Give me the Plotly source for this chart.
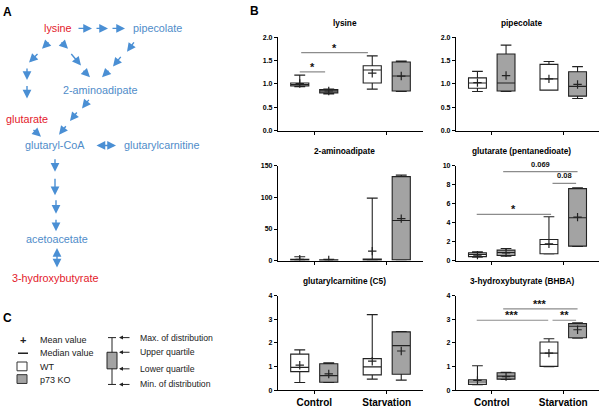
import plotly.graph_objects as go

# ---------------- data ----------------
conditions = ["Control", "Starvation"]
genotypes = ["WT", "p73 KO"]
# order in each list: WT-Control, KO-Control, WT-Starvation, KO-Starvation
lysine = dict(lo=[0.94, 0.79, 0.89, 0.84], q1=[0.96, 0.81, 1.02, 0.85], med=[0.99, 0.85, 1.30, 1.17],
              q3=[1.02, 0.88, 1.39, 1.47], hi=[1.19, 0.89, 1.60, 1.49], mean=[1.01, 0.85, 1.23, 1.17])
pipecolate = dict(lo=[0.84, 0.84, 0.87, 0.69], q1=[0.91, 0.85, 0.87, 0.74], med=[1.02, 1.02, 1.11, 0.95],
                  q3=[1.13, 1.64, 1.42, 1.26], hi=[1.27, 1.83, 1.48, 1.37], mean=[1.03, 1.18, 1.11, 0.99])
aminoadipate = dict(lo=[0.2, 0.2, 0.3, 0.5], q1=[0.5, 0.3, 0.5, 1.0], med=[1.0, 0.8, 1.0, 63.4],
                    q3=[2.0, 1.2, 2.5, 133.0], hi=[6.0, 2.0, 99.0, 135.5], mean=[2.0, 0.9, 15.0, 66.5])
glutarate = dict(lo=[0.35, 0.46, 0.70, 1.48], q1=[0.42, 0.53, 0.72, 1.52], med=[0.64, 0.85, 1.70, 4.52],
                 q3=[0.81, 1.10, 2.23, 7.60], hi=[0.92, 1.27, 4.63, 7.70], mean=[0.57, 0.81, 1.77, 4.59])
glutarylcarnitine = dict(lo=[0.33, 0.33, 0.47, 0.43], q1=[0.79, 0.34, 0.65, 0.68], med=[0.97, 0.62, 0.99, 1.89],
                         q3=[1.53, 1.12, 1.34, 2.47], hi=[1.71, 1.16, 3.20, 2.48], mean=[1.06, 0.69, 1.23, 1.66])
bhba = dict(lo=[0.24, 0.46, 1.00, 2.20], q1=[0.25, 0.47, 1.01, 2.22], med=[0.35, 0.60, 1.57, 2.71],
            q3=[0.44, 0.74, 2.04, 2.82], hi=[1.04, 0.76, 2.18, 2.85], mean=[0.42, 0.58, 1.57, 2.56])

panel_titles = ["lysine", "pipecolate", "2-aminoadipate", "glutarate (pentanedioate)",
                "glutarylcarnitine (C5)", "3-hydroxybutyrate (BHBA)"]
panel_data = [lysine, pipecolate, aminoadipate, glutarate, glutarylcarnitine, bhba]
y_max = [2.0, 2.0, 150, 10, 4, 4]
y_dtick = [0.5, 0.5, 50, 2, 1, 1]
y_fmt = [".1f", ".1f", "d", "d", "d", "d"]
# significance bars: (x from, x to, height, label)
lysine_sig = [(-0.2, 0.15, 1.26, "*"), (-0.18, 0.74, 1.67, "*")]
glutarate_sig = [(-0.21, 0.83, 4.88, "*"), (0.16, 1.20, 9.4, "0.069"), (0.85, 1.18, 8.16, "0.08")]
bhba_sig = [(-0.21, 0.79, 2.96, "***"), (0.85, 1.18, 2.96, "**"), (0.16, 1.20, 3.44, "***")]
panel_sig = [lysine_sig, [], [], glutarate_sig, [], bhba_sig]

# ---------------- helpers ----------------
W, H = 600, 408
FONT = "Liberation Sans, Arial, sans-serif"
BLUE = "#4a8fd4"
BLUE_T = "#4f8cc9"
RED = "#e3202b"
GRAY = "#a3a3a3"
INK = "#222222"


def px(x):
    return x / W


def py(y):
    return 1 - y / H


def text_ann(t, x, y, size, color, anchor="center", bold=False):
    return dict(text=f"<b>{t}</b>" if bold else t, x=px(x), y=py(y), xref="paper", yref="paper",
                showarrow=False, xanchor=anchor, yanchor="middle",
                font=dict(family=FONT, size=size, color=color))


fig = go.Figure()
annotations = []
shapes = []

# ---------------- panel B ----------------
col_x = [(278, 423), (456, 599)]
row_y = [(34, 130), (166, 263), (299, 396)]
offsets = [-0.2, 0.2]
fills = ["white", GRAY]

for i, (title, d) in enumerate(zip(panel_titles, panel_data)):
    r, c = divmod(i, 2)
    n = i + 1
    xa = "x" if n == 1 else f"x{n}"
    ya = "y" if n == 1 else f"y{n}"
    xkey = "xaxis" if n == 1 else f"xaxis{n}"
    ykey = "yaxis" if n == 1 else f"yaxis{n}"
    x0, x1 = col_x[c]
    y0, y1 = row_y[r]
    bottom = (r == 2)
    fig.layout[xkey] = dict(
        domain=[px(x0), px(x1)], anchor=ya, range=[-0.5, 1.5],
        tickmode="array", tickvals=[0, 1],
        ticktext=conditions if bottom else ["", ""],
        showline=True, linecolor="black", linewidth=1.2,
        ticks="outside", ticklen=3, tickwidth=1, tickcolor="black",
        showgrid=False, zeroline=False,
        tickfont=dict(family=FONT, size=10, color="black", weight="bold"),
        fixedrange=True,
    )
    fig.layout[ykey] = dict(
        domain=[py(y1), py(y0)], anchor=xa, range=[0, y_max[i]],
        dtick=y_dtick[i], tick0=0, tickformat=y_fmt[i],
        showline=True, linecolor="black", linewidth=1.2,
        ticks="outside", ticklen=3, tickwidth=1, tickcolor="black",
        showgrid=False, zeroline=False,
        tickfont=dict(family=FONT, size=7, color="black", weight="bold"),
        fixedrange=True,
    )
    for k in range(4):
        cond = k // 2
        gen = k % 2
        pos = cond + offsets[gen]
        fig.add_trace(go.Box(
            x=[pos], q1=[d["q1"][k]], median=[d["med"][k]], q3=[d["q3"][k]],
            lowerfence=[d["lo"][k]], upperfence=[d["hi"][k]],
            width=0.25, whiskerwidth=0.6, boxpoints=False,
            fillcolor=fills[gen], line=dict(color=INK, width=1.1),
            xaxis=xa, yaxis=ya, showlegend=False, hoverinfo="skip",
        ))
        fig.add_trace(go.Scatter(
            x=[pos], y=[d["mean"][k]], mode="markers",
            marker=dict(symbol="cross-thin", size=6, line=dict(color=INK, width=1.2)),
            xaxis=xa, yaxis=ya, showlegend=False, hoverinfo="skip",
        ))
    annotations.append(text_ann(title, (x0 + x1) / 2 - 6, y0 - 15, 8.3, "black", bold=True))
    for (sx0, sx1, sy, lab) in panel_sig[i]:
        shapes.append(dict(type="line", xref=xa, yref=ya, x0=sx0, x1=sx1, y0=sy, y1=sy,
                           line=dict(color="#8c8c8c", width=1.2)))
        is_star = "*" in lab
        annotations.append(dict(
            text=f"<b>{lab}</b>", x=(sx0 + sx1) / 2, y=sy, xref=xa, yref=ya, showarrow=False,
            xanchor="center", yanchor="bottom", yshift=-3 if is_star else 1,
            font=dict(family=FONT, size=11 if is_star else 7.5, color="#111111")))

# ---------------- panel labels ----------------
for lab, x, y in [("A", 7, 8), ("B", 254, 7), ("C", 7, 322)]:
    annotations.append(text_ann(lab, x, y, 12, "black", bold=True))

# ---------------- panel A: pathway ----------------
nodes = [("lysine", 58, 25, RED), ("pipecolate", 157, 25, BLUE_T), ("2-aminoadipate", 100, 88, BLUE_T),
         ("glutarate", 27, 118, RED), ("glutaryl-CoA", 55, 145, BLUE_T),
         ("glutarylcarnitine", 162, 145, BLUE_T), ("acetoacetate", 57, 241, BLUE_T),
         ("3-hydroxybutyrate", 55, 281, RED)]
for t, x, y, col in nodes:
    annotations.append(text_ann(t, x, y, 10.8, col))

# arrows: tail (x, y) -> head (x, y), double-headed flag
arrows = [
    (77, 25, 92, 25, False), (95, 25, 108, 25, False), (111, 25, 125, 25, False),
    (50, 38, 42, 46, False), (39, 50, 29, 60, False),
    (27, 65, 27, 78, False), (27, 83, 27, 97, False),
    (60, 38, 68, 46, False), (70, 50, 81, 63, False), (82, 67, 90, 75, False),
    (135, 38, 127, 49, False), (122, 53, 113, 64, False), (110, 67, 102, 75, False),
    (90, 97, 82, 107, False), (78, 110, 70, 120, False), (67, 124, 59, 134, False),
    (32, 128, 41, 136, False),
    (95, 145, 116, 145, True),
    (55, 158, 55, 172, False), (55, 178, 55, 196, False),
    (56, 200, 56, 215, False), (56, 220, 56, 233, False),
    (57, 249, 57, 270, True),
]
for (tx, ty, hx, hy, both) in arrows:
    annotations.append(dict(
        x=px(hx), y=py(hy), xref="paper", yref="paper", ax=tx - hx, ay=ty - hy,
        axref="pixel", ayref="pixel", text="", showarrow=True,
        arrowhead=2, arrowsize=1.25, arrowwidth=1.4, arrowcolor=BLUE,
        arrowside="end+start" if both else "end", startarrowhead=2, startarrowsize=1.25,
        standoff=0, startstandoff=0))

# ---------------- panel C: legend ----------------
legend_items = ["Mean value", "Median value", "WT", "p73 KO"]
legend_y = [344, 358, 372, 385]
for t, y in zip(legend_items, legend_y):
    annotations.append(text_ann(t, 38, y, 9, INK, anchor="left"))
annotations.append(text_ann("<b>+</b>", 23, 344, 11, INK))
shapes.append(dict(type="line", xref="paper", yref="paper", x0=px(18), x1=px(28), y0=py(358), y1=py(358),
                   line=dict(color=INK, width=1.5)))
shapes.append(dict(type="rect", xref="paper", yref="paper", x0=px(17), x1=px(27), y0=py(367), y1=py(376),
                   fillcolor="white", line=dict(color="#333333", width=1)))
shapes.append(dict(type="rect", xref="paper", yref="paper", x0=px(17), x1=px(27), y0=py(380), y1=py(389),
                   fillcolor=GRAY, line=dict(color="#333333", width=1)))

# schematic box
shapes += [
    dict(type="line", xref="paper", yref="paper", x0=px(112), x1=px(112), y0=py(342), y1=py(390),
         line=dict(color=INK, width=1)),
    dict(type="line", xref="paper", yref="paper", x0=px(108), x1=px(116), y0=py(342), y1=py(342),
         line=dict(color=INK, width=1)),
    dict(type="line", xref="paper", yref="paper", x0=px(108), x1=px(116), y0=py(390), y1=py(390),
         line=dict(color=INK, width=1)),
    dict(type="rect", xref="paper", yref="paper", x0=px(107), x1=px(117), y0=py(357), y1=py(374),
         fillcolor=GRAY, line=dict(color=INK, width=1)),
]
schema_labels = ["Max. of distribution", "Upper quartile", "Lower quartile", "Min. of distribution"]
schema_y = [342, 357, 374, 390]
for t, y in zip(schema_labels, schema_y):
    annotations.append(dict(x=px(119), y=py(y), xref="paper", yref="paper", ax=12, ay=0,
                            axref="pixel", ayref="pixel", text="", showarrow=True,
                            arrowhead=2, arrowsize=0.8, arrowwidth=1, arrowcolor=INK, standoff=0))
    annotations.append(text_ann(t, 138, y, 8.7, INK, anchor="left"))

fig.update_layout(
    width=W, height=H, autosize=False,
    margin=dict(l=0, r=0, t=0, b=0),
    paper_bgcolor="white", plot_bgcolor="white",
    boxmode="overlay", showlegend=False,
    annotations=annotations, shapes=shapes,
    font=dict(family=FONT),
)
fig.write_html("out.html", config={"displayModeBar": False},
               post_script="document.body.style.margin='0';document.body.style.overflow='hidden';")
